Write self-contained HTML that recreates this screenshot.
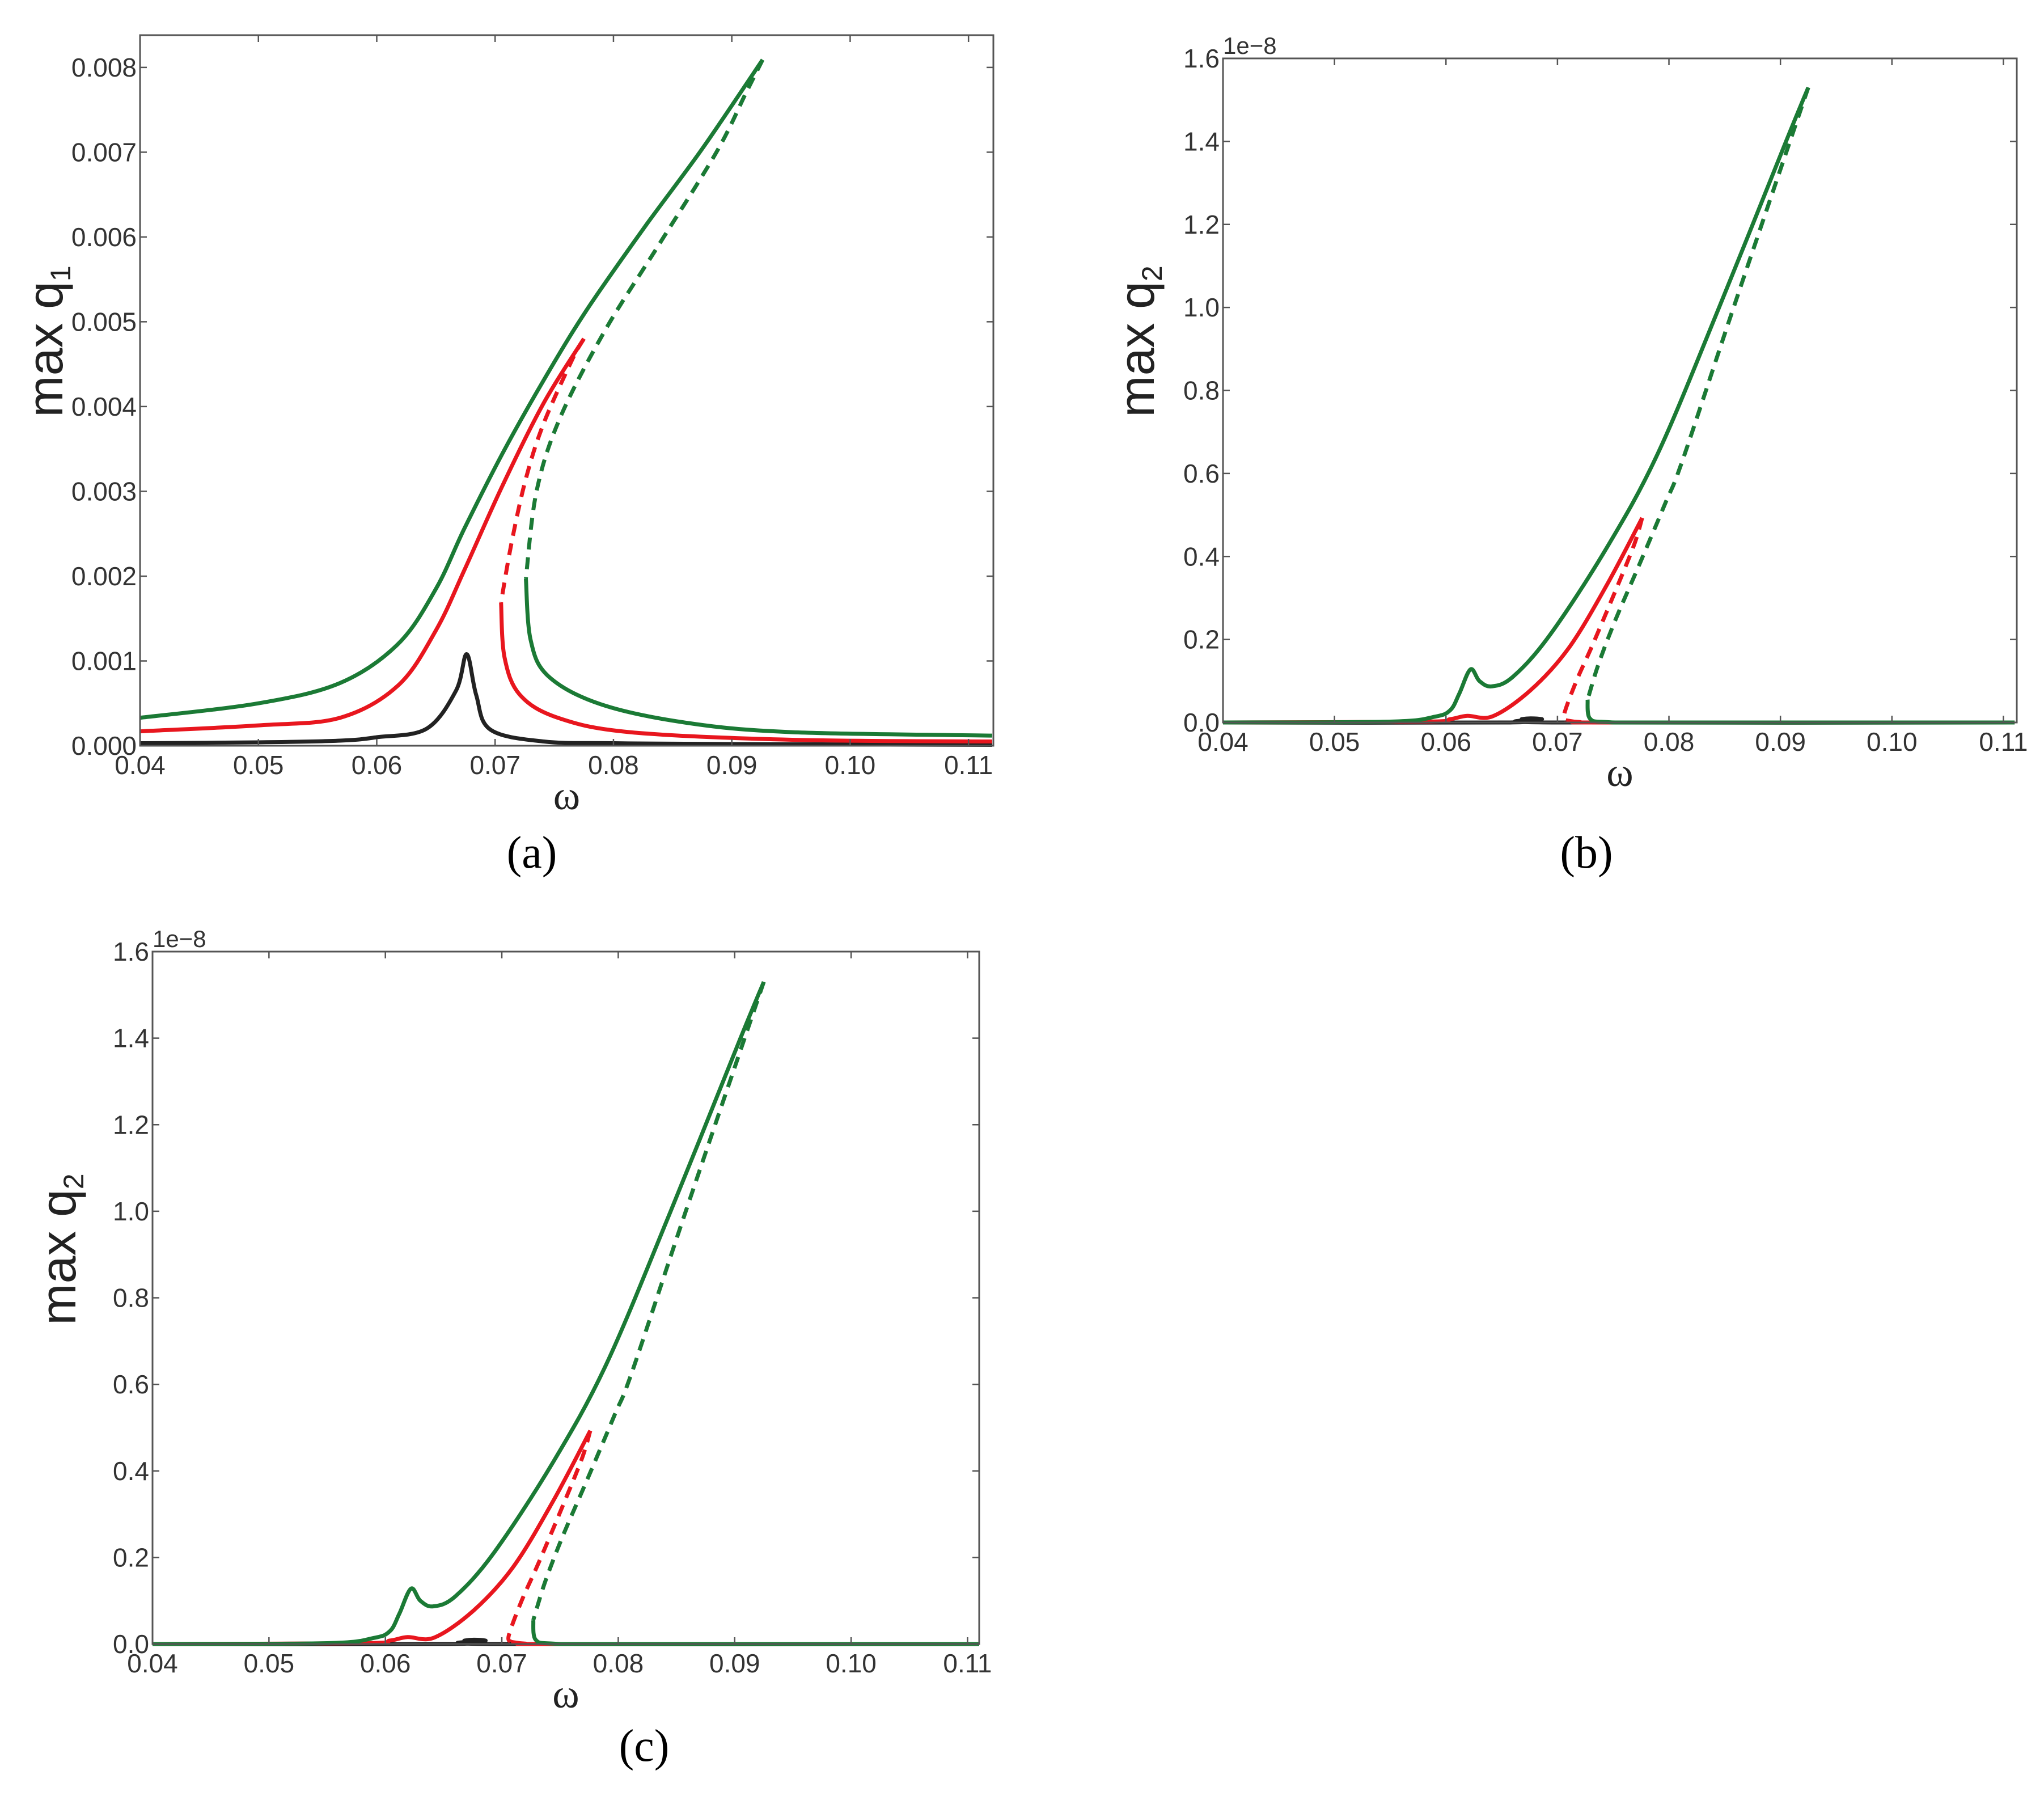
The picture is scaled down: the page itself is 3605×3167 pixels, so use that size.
<!DOCTYPE html>
<html><head><meta charset="utf-8"><style>
html,body{margin:0;padding:0;background:#fff;}
svg{display:block;}
text{font-family:"Liberation Sans",sans-serif;}
</style></head><body>
<svg id="fig" xmlns="http://www.w3.org/2000/svg" width="3605" height="3167" viewBox="0 0 3605 3167">
<rect width="3605" height="3167" fill="#fff"/>
<text x="938" y="1530" font-size="80" text-anchor="middle" style="font-family:'Liberation Serif',serif">(a)</text>
<text x="2798" y="1530" font-size="80" text-anchor="middle" style="font-family:'Liberation Serif',serif">(b)</text>
<text x="1136" y="3105" font-size="80" text-anchor="middle" style="font-family:'Liberation Serif',serif">(c)</text>
</svg>
<script>
// ---- Panel (a) data: max q1 ----
const aBlackX=[0.04,0.05,0.0569,0.06,0.0642,0.0667,0.0676,0.0684,0.0696,0.0741,0.08,0.09,0.112];
const aBlackY=[0.00003,0.00004,0.00006,0.0001,0.0002,0.00065,0.00108,0.0006,0.00019,0.00005,0.00003,0.00002,0.00001];
const aRedUpX=[0.04,0.05,0.0569,0.0618,0.065,0.0674,0.0706,0.0741,0.0775];
const aRedUpY=[0.00017,0.00024,0.00033,0.00071,0.00136,0.00207,0.00306,0.00404,0.0048];
const aRedDashX=[0.0775,0.0765,0.0741,0.0726,0.0714,0.0705];
const aRedDashY=[0.0048,0.00455,0.0038,0.00315,0.0024,0.00169];
const aRedLowX=[0.0705,0.0708,0.0721,0.0753,0.0814,0.0951,0.112];
const aRedLowY=[0.00169,0.00104,0.0006,0.00033,0.00016,0.00007,0.00005];
const aGreenUpX=[0.04,0.05,0.0569,0.0618,0.065,0.0674,0.0706,0.0741,0.0777,0.0826,0.0875,0.0926];
const aGreenUpY=[0.00033,0.0005,0.00074,0.0012,0.00185,0.00256,0.00344,0.00431,0.00513,0.00611,0.00704,0.00809];
const aGreenDashX=[0.0926,0.0912,0.0887,0.0838,0.0793,0.0755,0.0735,0.0726];
const aGreenDashY=[0.00809,0.0077,0.0070,0.0059,0.0049,0.00387,0.003,0.00197];
const aGreenLowX=[0.0726,0.073,0.0745,0.0789,0.0862,0.0951,0.112];
const aGreenLowY=[0.00197,0.00125,0.00082,0.00049,0.00027,0.00016,0.00012];
// ---- Panels (b),(c) data: max q2 (x1e-8) ----
const bGreenUpX=[0.04,0.055,0.059,0.0604,0.0612,0.0622,0.063,0.0641,0.066,0.0693,0.0744,0.079,0.0845,0.0905,0.0925];
const bGreenUpY=[0,0.002,0.014,0.03,0.07,0.128,0.1,0.087,0.11,0.21,0.42,0.648,1.0,1.4,1.53];
const bGreenDashX=[0.0925,0.0858,0.0812,0.0797,0.0774,0.0752,0.0737,0.0727];
const bGreenDashY=[1.53,1.0,0.63,0.53,0.384,0.247,0.142,0.055];
const bGreenLowX=[0.0727,0.0729,0.0744,0.08,0.111];
const bGreenLowY=[0.055,0.01,0.001,0,0];
const bRedUpX=[0.04,0.058,0.0604,0.0619,0.0642,0.0676,0.071,0.0744,0.0776];
const bRedUpY=[0,0.002,0.008,0.016,0.015,0.078,0.179,0.33,0.493];
const bRedDashX=[0.0776,0.0769,0.0754,0.0732,0.0717,0.0706,0.0708];
const bRedDashY=[0.493,0.43,0.33,0.19,0.10,0.02,0.005];
const bRedLowX=[0.0708,0.072,0.075,0.111];
const bRedLowY=[0.005,0.001,0,0];
const bBlackX=[0.04,0.0655,0.0668,0.0676,0.0686,0.0695,0.111];
const bBlackY=[0,0,0.008,0.01,0.008,0,0];
const xTicks=[0.04,0.05,0.06,0.07,0.08,0.09,0.10,0.11];
const xTickLabels=["0.04","0.05","0.06","0.07","0.08","0.09","0.10","0.11"];
const aYTicks=[0,0.001,0.002,0.003,0.004,0.005,0.006,0.007,0.008];
const aYTickLabels=["0.000","0.001","0.002","0.003","0.004","0.005","0.006","0.007","0.008"];
const bYTicks=[0,0.2,0.4,0.6,0.8,1.0,1.2,1.4,1.6];
const bYTickLabels=["0.0","0.2","0.4","0.6","0.8","1.0","1.2","1.4","1.6"];

const NS="http://www.w3.org/2000/svg";
const svg=document.getElementById('fig');
const GREEN="#1b7a35",RED="#e8161e",BLACK="#222";
function mk(tag,parent){const e=document.createElementNS(NS,tag);parent.appendChild(e);return e;}
function smooth(P){
  let d='M'+P[0][0].toFixed(1)+','+P[0][1].toFixed(1);
  for(let i=0;i<P.length-1;i++){
    const p0=P[i-1]||P[i],p1=P[i],p2=P[i+1],p3=P[i+2]||P[i+1];
    const c1=[p1[0]+(p2[0]-p0[0])/6,p1[1]+(p2[1]-p0[1])/6];
    const c2=[p2[0]-(p3[0]-p1[0])/6,p2[1]-(p3[1]-p1[1])/6];
    d+='C'+c1[0].toFixed(1)+','+c1[1].toFixed(1)+' '+c2[0].toFixed(1)+','+c2[1].toFixed(1)+' '+p2[0].toFixed(1)+','+p2[1].toFixed(1);
  }
  return d;
}

function panel(id,box,xmin,xmax,ymin,ymax,yT,yTL,sub,offset,series,ylPos){
  const g=mk('g',svg);
  
  
  const sx=v=>box.l+(v-xmin)/(xmax-xmin)*(box.r-box.l);
  const sy=v=>box.b-(v-ymin)/(ymax-ymin)*(box.b-box.t);
  series.forEach(s=>{
    const p=mk('path',g);
    
    
    p.setAttribute('d',smooth(s.x.map((v,i)=>[sx(v),sy(s.y[i])])));
    p.setAttribute('fill','none');p.setAttribute('stroke',s.c);p.setAttribute('stroke-width','7');
    p.setAttribute('stroke-linejoin','round');
    if(s.dash)p.setAttribute('stroke-dasharray','21 14');
  });
  const f=mk('rect',g);
  
  
  f.setAttribute('x',box.l);f.setAttribute('y',box.t);f.setAttribute('width',box.r-box.l);f.setAttribute('height',box.b-box.t);
  f.setAttribute('fill','none');f.setAttribute('stroke','#555');f.setAttribute('stroke-width','3');
  xTicks.forEach((v,i)=>{
    const X=sx(v); if(X>box.r+2)return;
    const t=mk('path',g);
    
    
    t.setAttribute('d',`M${X},${box.b}v-12M${X},${box.t}v12`);t.setAttribute('stroke','#555');t.setAttribute('stroke-width','2.5');
    const l=mk('text',g);
    
    
    l.setAttribute('x',X);l.setAttribute('y',box.b+50);l.setAttribute('font-size','46');l.setAttribute('fill','#333');l.setAttribute('text-anchor','middle');
    l.textContent=xTickLabels[i];
  });
  yT.forEach((v,i)=>{
    const Y=sy(v);
    const t=mk('path',g);
    
    
    t.setAttribute('d',`M${box.l},${Y}h12M${box.r},${Y}h-12`);t.setAttribute('stroke','#555');t.setAttribute('stroke-width','2.5');
    const l=mk('text',g);
    
    
    l.setAttribute('x',box.l-6);l.setAttribute('y',Y+16);l.setAttribute('font-size','46');l.setAttribute('fill','#333');l.setAttribute('text-anchor','end');
    l.textContent=yTL[i];
  });
  if(offset){
    const o=mk('text',g);
    
    
    o.setAttribute('x',box.l);o.setAttribute('y',box.t-8);o.setAttribute('font-size','42');o.setAttribute('fill','#333');
    o.textContent='1e\u22128';
  }
  const xl=mk('text',g);
  
  
  xl.setAttribute('x',(box.l+box.r)/2);xl.setAttribute('y',box.b+112);xl.setAttribute('font-size','72');xl.setAttribute('text-anchor','middle');xl.setAttribute('fill','#222');
  xl.setAttribute('style',"font-family:'Liberation Serif',serif");
  xl.textContent='\u03c9';
  const yl=mk('text',g);
  
  
  yl.setAttribute('transform',`translate(${ylPos[0]+30},${ylPos[1]}) rotate(-90)`);
  yl.setAttribute('font-size','88');yl.setAttribute('text-anchor','middle');yl.setAttribute('fill','#222');
  yl.textContent='max q';
  const ts=mk('tspan',yl);
  ts.setAttribute('font-size','50');ts.setAttribute('dy','14');
  ts.textContent=sub;
}
const aSeries=[
 {name:'black-curve',x:aBlackX,y:aBlackY,c:BLACK},
 {name:'red-upper-branch',x:aRedUpX,y:aRedUpY,c:RED},
 {name:'red-unstable-branch',x:aRedDashX,y:aRedDashY,c:RED,dash:1},
 {name:'red-lower-branch',x:aRedLowX,y:aRedLowY,c:RED},
 {name:'green-upper-branch',x:aGreenUpX,y:aGreenUpY,c:GREEN},
 {name:'green-unstable-branch',x:aGreenDashX,y:aGreenDashY,c:GREEN,dash:1},
 {name:'green-lower-branch',x:aGreenLowX,y:aGreenLowY,c:GREEN}];
const bSeries=[
 {name:'black-curve',x:bBlackX,y:bBlackY,c:BLACK},
 {name:'red-upper-branch',x:bRedUpX,y:bRedUpY,c:RED},
 {name:'red-unstable-branch',x:bRedDashX,y:bRedDashY,c:RED,dash:1},
 {name:'red-lower-branch',x:bRedLowX,y:bRedLowY,c:RED},
 {name:'green-upper-branch',x:bGreenUpX,y:bGreenUpY,c:GREEN},
 {name:'green-unstable-branch',x:bGreenDashX,y:bGreenDashY,c:GREEN,dash:1},
 {name:'green-lower-branch',x:bGreenLowX,y:bGreenLowY,c:GREEN}];
panel('a',{l:247,r:1752,t:62,b:1315},0.04,0.1121,0,0.00838,aYTicks,aYTickLabels,'1',false,aSeries,[80,602]);
panel('b',{l:2157,r:3557,t:103,b:1274},0.04,0.1112,0,1.6,bYTicks,bYTickLabels,'2',true,bSeries,[2005,602]);
panel('c',{l:269,r:1727,t:1678,b:2899},0.04,0.111,0,1.6,bYTicks,bYTickLabels,'2',true,bSeries,[103,2203]);
</script>
</body></html>
